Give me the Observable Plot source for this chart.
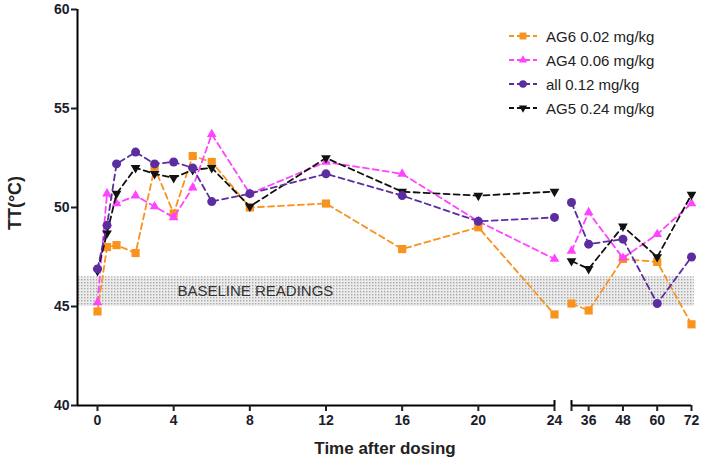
<!DOCTYPE html>
<html><head><meta charset="utf-8">
<script src="https://cdn.jsdelivr.net/npm/d3@7"></script>
<script src="https://cdn.jsdelivr.net/npm/@observablehq/plot@0.6"></script>
<style>
body{margin:0;background:#fff;font-family:"Liberation Sans",Arial,sans-serif;}
#wrap{position:relative;width:704px;height:463px;overflow:hidden;}
#chart{position:absolute;left:0;top:0;}
#legend{position:absolute;left:508px;top:24px;}
.item{display:flex;align-items:center;height:24px;font-size:15px;color:#222;white-space:nowrap;}
.item svg{margin-right:8px;}
#ylab{position:absolute;left:15px;top:203px;transform:translate(-50%,-50%) rotate(-90deg);font-weight:bold;font-size:18px;color:#222;white-space:nowrap;}
#xlab{position:absolute;left:385px;top:449px;transform:translate(-50%,-50%);font-weight:bold;font-size:17px;color:#222;white-space:nowrap;}
</style></head><body>
<div id="wrap"><div id="chart"></div><div id="legend"></div><div id="ylab">TT(°C)</div><div id="xlab">Time after dosing</div></div>
<script>
// ---- data ----
const times = [0, 0.5, 1, 2, 3, 4, 5, 6, 8, 12, 16, 20, 24, 30, 36, 48, 60, 72];
const seriesNames = ["AG6 0.02 mg/kg", "AG4 0.06 mg/kg", "all 0.12 mg/kg", "AG5 0.24 mg/kg"];
const ag6 = [44.75, 48.0, 48.1, 47.7, 52.0, 49.7, 52.6, 52.3, 50.0, 50.2, 47.9, 49.0, 44.6, 45.15, 44.8, 47.4, 47.25, 44.1];
const ag4 = [45.2, 50.7, 50.2, 50.6, 50.05, 49.5, 51.0, 53.7, 50.7, 52.3, 51.7, 49.3, 47.4, 47.8, 49.75, 47.45, 48.65, 50.2];
const all = [46.9, 49.1, 52.2, 52.8, 52.2, 52.3, 52.0, 50.3, 50.7, 51.7, 50.6, 49.3, 49.5, 50.25, 48.15, 48.4, 45.15, 47.5];
const ag5 = [46.8, 48.7, 50.7, 52.0, 51.7, 51.5, 51.9, 52.0, 50.05, 52.5, 50.8, 50.6, 50.8, 47.3, 46.9, 49.05, 47.5, 50.65];
const xTicks = [0, 4, 8, 12, 16, 20, 24, 36, 48, 60, 72];
const yTicks = [40, 45, 50, 55, 60];
const breakAt = [24, 30];           // axis break: end of first segment, start of second
const baselineRange = [45, 46.5];
const baselineLabel = "BASELINE READINGS";

// ---- styles ----
const colors = ["#f7931e", "#ff44ff", "#5b2d9e", "#111111"];
const sq3 = Math.sqrt(3);
const triDown = {draw(ctx, size) {
  const y = -Math.sqrt(size / (sq3 * 3));
  ctx.moveTo(0, -y * 2); ctx.lineTo(-sq3 * y, y); ctx.lineTo(sq3 * y, y); ctx.closePath();
}};
const symbols = ["square", "triangle", "circle", triDown];
const radii = [4.6, 3.6, 4.5, 3.6];

const valuesList = [ag6, ag4, all, ag5];
const rows = [];
seriesNames.forEach((s, i) => times.forEach((t, j) => rows.push({series: s, idx: i, t, v: valuesList[i][j], seg: t <= breakAt[0] ? 0 : 1})));

const xDomain = [-1.05, breakAt[0], breakAt[1], 72];
const drawOrder = [0, 1, 3, 2];
const marks = [
  Plot.rect([baselineRange], {x1: xDomain[0], x2: 73, y1: d => d[0], y2: d => d[1], fill: "url(#dots)"}),
  Plot.text([baselineLabel], {x: 4.2, y: (baselineRange[0] + baselineRange[1]) / 2, text: d => d, textAnchor: "start", fontSize: 15, fill: "#333", fontFamily: "Liberation Sans, Arial, sans-serif"}),
];
for (const i of drawOrder) {
  const data = rows.filter(d => d.idx === i);
  marks.push(Plot.line(data, {x: "t", y: "v", z: "seg", stroke: colors[i], strokeWidth: 1.8, strokeDasharray: "6,4"}));
  marks.push(Plot.dot(data, {x: "t", y: "v", symbol: symbols[i], r: radii[i], fill: colors[i], stroke: "none"}));
}
marks.push(
  Plot.ruleX([xDomain[0]], {y1: yTicks[0], y2: yTicks[yTicks.length - 1], stroke: "#000", strokeWidth: 2}),
  Plot.ruleY([yTicks[0]], {x1: xDomain[0], x2: breakAt[0], stroke: "#000", strokeWidth: 2}),
  Plot.ruleY([yTicks[0]], {x1: breakAt[1], x2: 72, stroke: "#000", strokeWidth: 2}),
  Plot.ruleX(breakAt, {y1: yTicks[0], y2: yTicks[0] + 0.25, stroke: "#000", strokeWidth: 2}),
  Plot.axisY({ticks: yTicks, tickSize: 6, tickPadding: 2, tickFormat: d => String(d), label: null, fontSize: 14, fontWeight: "bold", strokeWidth: 2}),
  Plot.axisX({ticks: xTicks, tickSize: 6, tickPadding: 4, tickFormat: d => String(d), label: null, fontSize: 14, fontWeight: "bold", strokeWidth: 2}),
  Plot.axisX({ticks: [breakAt[1]], tickSize: 6, tickFormat: () => "", label: null, strokeWidth: 2})
);

const svg = Plot.plot({
  width: 704, height: 463,
  marginLeft: 77, marginRight: 12, marginTop: 9, marginBottom: 58,
  style: {fontFamily: "Liberation Sans, Arial, sans-serif", color: "#1c1c2a", background: "#fff"},
  x: {type: "linear", domain: xDomain, range: [77, 554, 571, 691]},
  y: {domain: [40, 60]},
  marks
});
// dotted pattern for the baseline band
const ns = "http://www.w3.org/2000/svg";
const defs = document.createElementNS(ns, "defs");
defs.innerHTML = '<pattern id="dots" width="3" height="3" patternUnits="userSpaceOnUse"><rect width="3" height="3" fill="#ececec"/><rect x="0" y="0" width="1.4" height="1.4" fill="#a8a8a8"/></pattern>';
svg.insertBefore(defs, svg.firstChild);
document.getElementById("chart").appendChild(svg);

// legend
const leg = document.getElementById("legend");
seriesNames.forEach((s, i) => {
  const item = document.createElement("div");
  item.className = "item";
  const sv = d3.create("svg").attr("width", 30).attr("height", 14);
  sv.append("line").attr("x1", 1).attr("x2", 29).attr("y1", 7).attr("y2", 7)
    .attr("stroke", colors[i]).attr("stroke-width", 1.8).attr("stroke-dasharray", "5,3");
  const sym = typeof symbols[i] === "string" ? {square: d3.symbolSquare, triangle: d3.symbolTriangle, circle: d3.symbolCircle}[symbols[i]] : symbols[i];
  const r = radii[i] * 0.85;
  sv.append("path").attr("transform", "translate(15,7)").attr("d", d3.symbol(sym, Math.PI * r * r)()).attr("fill", colors[i]);
  item.appendChild(sv.node());
  const sp = document.createElement("span"); sp.textContent = s; item.appendChild(sp);
  leg.appendChild(item);
});
</script></body></html>
